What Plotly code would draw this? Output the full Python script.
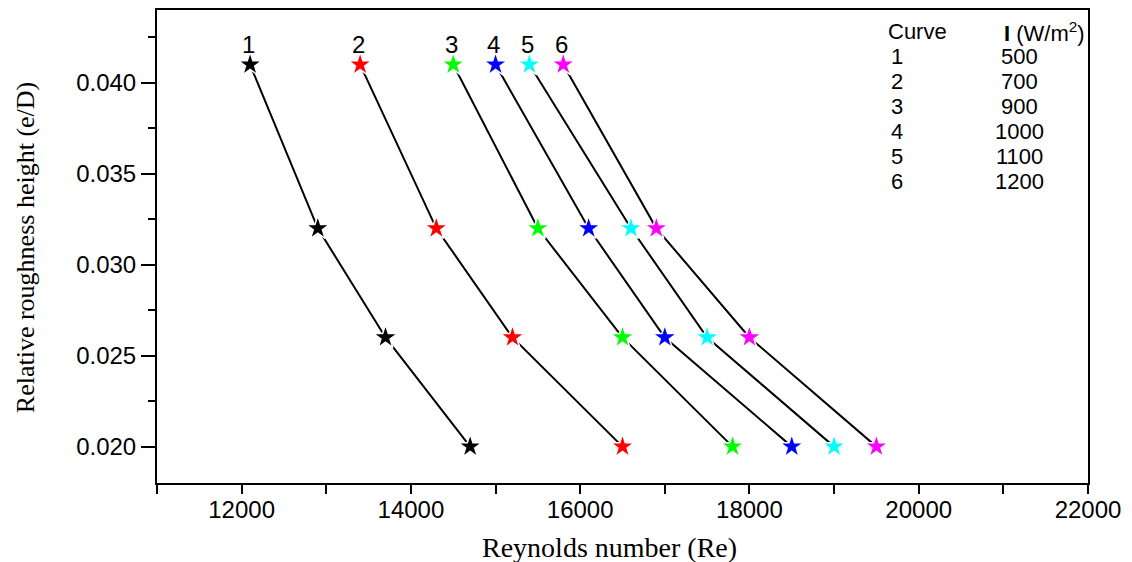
import plotly.graph_objects as go

# Data
roughness = [0.041, 0.032, 0.026, 0.020]
curve_ids = ["1", "2", "3", "4", "5", "6"]
intensity = [500, 700, 900, 1000, 1100, 1200]
reynolds = [
    [12100, 12900, 13700, 14700],
    [13400, 14300, 15200, 16500],
    [14500, 15500, 16500, 17800],
    [15000, 16100, 17000, 18500],
    [15400, 16600, 17500, 19000],
    [15800, 16900, 18000, 19500],
]
colors = ["#000000", "#FF0000", "#00FF00", "#0000FF", "#00FFFF", "#FF00FF"]

SANS = "Liberation Sans, Arial"
SERIF = "Liberation Serif, Times New Roman"

fig = go.Figure()
for cid, xs, col in zip(curve_ids, reynolds, colors):
    fig.add_trace(go.Scatter(
        x=xs, y=roughness, mode="lines+markers", name=cid,
        line=dict(color="black", width=2),
        marker=dict(symbol="star", size=18, color=col, line=dict(color="white", width=1.5)),
        showlegend=False,
    ))
    fig.add_annotation(x=xs[0], y=roughness[0], text=cid, showarrow=False,
                       yshift=20, xshift=-2, font=dict(family=SANS, size=24, color="black"))

# Legend table
legend_font = dict(family=SANS, size=22, color="black")
fig.add_annotation(xref="paper", yref="paper", x=0.8174, y=0.954, xanchor="center", yanchor="middle",
                   text="Curve", showarrow=False, font=legend_font)
fig.add_annotation(xref="paper", yref="paper", x=0.953, y=0.954, xanchor="center", yanchor="middle",
                   text="<b>I</b> (W/m<sup>2</sup>)", showarrow=False, font=legend_font)
for i, (cid, val) in enumerate(zip(curve_ids, intensity)):
    ypos = 0.9013 - i * 0.05285
    fig.add_annotation(xref="paper", yref="paper", x=0.7948, y=ypos, xanchor="center", yanchor="middle",
                       text=cid, showarrow=False, font=legend_font)
    fig.add_annotation(xref="paper", yref="paper", x=0.9259, y=ypos, xanchor="center", yanchor="middle",
                       text=str(val), showarrow=False, font=legend_font)

# Axis titles as annotations for exact placement
fig.add_annotation(xref="paper", yref="paper", x=0.486, y=-0.137, xanchor="center", yanchor="middle",
                   text="Reynolds number (Re)", showarrow=False,
                   font=dict(family=SERIF, size=28, color="black"))
fig.add_annotation(xref="paper", yref="paper", x=-0.141, y=0.498, xanchor="center", yanchor="middle",
                   text="Relative roughness height (e/D)", showarrow=False, textangle=-90,
                   font=dict(family=SERIF, size=26, color="black"))

fig.update_layout(
    width=1132, height=562,
    margin=dict(l=157, r=44, t=10, b=79),
    plot_bgcolor="white", paper_bgcolor="white",
    font=dict(family=SANS, color="black"),
)
fig.update_xaxes(
    range=[11000, 22000], dtick=2000, tick0=12000, tickformat="d",
    showgrid=False, zeroline=False, automargin=False,
    showline=True, linecolor="black", linewidth=2, mirror=True,
    ticks="outside", ticklen=9, tickwidth=2, tickcolor="black",
    ticklabelstandoff=-5,
    minor=dict(dtick=1000, tick0=11000, ticks="outside", ticklen=9, tickwidth=2, tickcolor="black", showgrid=False),
    tickfont=dict(family=SANS, size=24, color="black"),
)
fig.update_yaxes(
    range=[0.018, 0.044], dtick=0.005, tick0=0.020, tickformat=".3f",
    showgrid=False, zeroline=False, automargin=False,
    showline=True, linecolor="black", linewidth=2, mirror=True,
    ticks="outside", ticklen=14, tickwidth=2, tickcolor="black",
    minor=dict(dtick=0.0025, tick0=0.0175, ticks="outside", ticklen=7, tickwidth=2, tickcolor="black", showgrid=False),
    tickfont=dict(family=SANS, size=24, color="black"),
)

fig.write_html("out.html")
